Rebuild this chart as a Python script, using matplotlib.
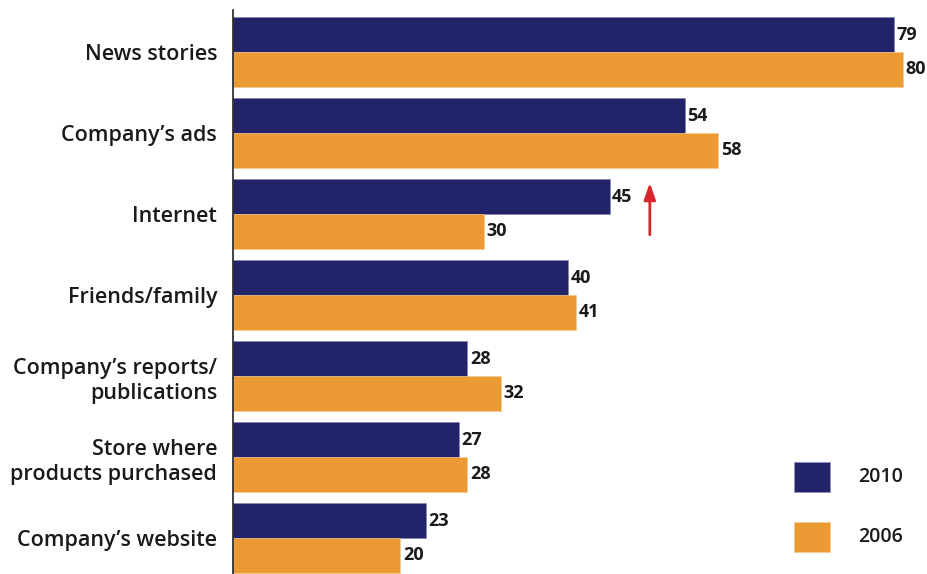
import matplotlib
matplotlib.use("Agg")
import matplotlib.pyplot as plt
from matplotlib.patches import Rectangle
import numpy as np

categories = ["News stories", "Company\u2019s ads", "Internet", "Friends/family",
              "Company\u2019s reports/\npublications", "Store where\nproducts purchased",
              "Company\u2019s website"]
values_2010 = [79, 54, 45, 40, 28, 27, 23]
values_2006 = [80, 58, 30, 41, 32, 28, 20]
series_names = ["2010", "2006"]

navy = "#232369"
orange = "#ec9a33"

plt.rcParams['font.family'] = ['Open Sans', 'DejaVu Sans']

fig = plt.figure(figsize=(9.27, 5.74), dpi=100)
ax = fig.add_axes([233/927, 0, 1 - 233/927, 1 - 10/574])

y = np.arange(len(categories))
h = 0.43
ax.barh(y - h/2, values_2010, height=h, color=navy, edgecolor="#8080b0", linewidth=0.4)
ax.barh(y + h/2, values_2006, height=h, color=orange, edgecolor="#f5c890", linewidth=0.4)

for yi, v in zip(y, values_2010):
    ax.text(v + 0.3, yi - h/2, str(v), va="center", ha="left", fontsize=13,
            fontweight="bold", color="#1a1a1a", clip_on=False)
for yi, v in zip(y, values_2006):
    ax.text(v + 0.3, yi + h/2, str(v), va="center", ha="left", fontsize=13,
            fontweight="bold", color="#1a1a1a", clip_on=False)

ax.set_xlim(0, (927 - 233) / 8.37)
ax.set_ylim(6.444, -0.519)
ax.set_yticks(y)
ax.set_yticklabels(categories, fontsize=15.5, color="#1a1a1a", linespacing=1.3,
                   fontweight="semibold")
ax.tick_params(axis="y", length=0, pad=11.5)
ax.set_xticks([])
for s in ["top", "right", "bottom"]:
    ax.spines[s].set_visible(False)
ax.spines["left"].set_linewidth(1.2)
ax.spines["left"].set_color("#222222")

# red arrow highlighting Internet
ax.annotate("", xy=(49.8, 1.58), xytext=(49.8, 2.29),
            arrowprops=dict(arrowstyle="-|>,head_width=0.35,head_length=1.0",
                            color="#d7262b", lw=2))

# legend
for i, (name, col) in enumerate(zip(series_names, [navy, orange])):
    top = 462 + i * 60
    fig.patches.append(Rectangle((794/927, 1 - (top + 30)/574), 36/927, 30/574,
                                 transform=fig.transFigure, facecolor=col,
                                 edgecolor="#9090c0" if i == 0 else "#f5c890", lw=0.5))
    fig.text(858/927, 1 - (top + 15)/574, name, va="center", ha="left",
             fontsize=14, fontweight="semibold", color="#1a1a1a")

fig.savefig("out.png", dpi=100)
